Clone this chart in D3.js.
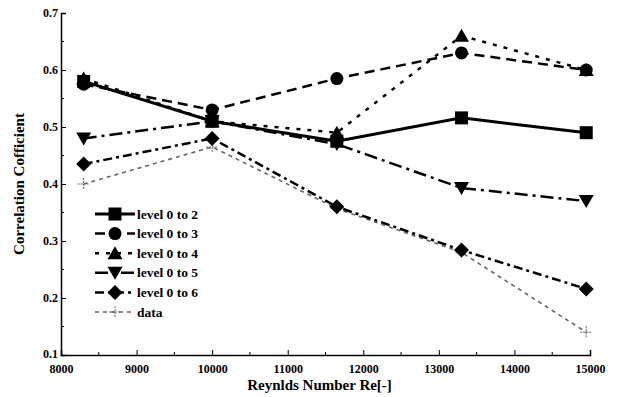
<!DOCTYPE html>
<html>
<head>
<meta charset="utf-8">
<script src="https://cdn.jsdelivr.net/npm/d3@7"></script>
<style>
  html, body { margin: 0; padding: 0; background: #fff; }
  svg { display: block; }
  svg text { font-family: "Liberation Serif", "Times New Roman", "DejaVu Serif", serif !important; font-weight: bold; }
</style>
</head>
<body>
<div id="chart"></div>
<script>
// Reynolds numbers sampled
const reynolds = [8300, 10000, 11650, 13300, 14950];

const level02 = [0.580, 0.510, 0.475, 0.516, 0.490];
const level03 = [0.575, 0.530, 0.585, 0.630, 0.600];
const level04 = [0.585, 0.510, 0.490, 0.660, 0.600];
const level05 = [0.480, 0.510, 0.470, 0.393, 0.370];
const level06 = [0.435, 0.480, 0.360, 0.284, 0.216];
const dataObs = [0.400, 0.465, 0.357, 0.280, 0.140];

const seriesNames = ["level 0 to 2", "level 0 to 3", "level 0 to 4", "level 0 to 5", "level 0 to 6", "data"];
const xTicks = [8000, 9000, 10000, 11000, 12000, 13000, 14000, 15000];
const yTicks = [0.1, 0.2, 0.3, 0.4, 0.5, 0.6, 0.7];

const series = [
  { name: seriesNames[0], values: level02, symbol: "square", dash: null, width: 3, color: "#000" },
  { name: seriesNames[1], values: level03, symbol: "circle", dash: "10,6", width: 2.5, color: "#000" },
  { name: seriesNames[2], values: level04, symbol: "triUp", dash: "4,7", width: 2.5, color: "#000" },
  { name: seriesNames[3], values: level05, symbol: "triDown", dash: "13,5,3,5", width: 2.5, color: "#000" },
  { name: seriesNames[4], values: level06, symbol: "diamond", dash: "9,4,3,4", width: 2.5, color: "#000" },
  { name: seriesNames[5], values: dataObs, symbol: "plus", dash: "4,4", width: 1.6, color: "#666" },
];

const W = 617, H = 397;
const margin = { top: 13, right: 27, bottom: 42, left: 61 };

const svg = d3.select("#chart").append("svg")
  .attr("width", W).attr("height", H);

const x = d3.scaleLinear().domain([8000, 15000]).range([margin.left, W - margin.right]);
const y = d3.scaleLinear().domain([0.1, 0.7]).range([H - margin.bottom, margin.top]);

// axes: ticks pointing inward
const xAxis = svg.append("g")
  .attr("transform", `translate(0,${H - margin.bottom})`)
  .call(d3.axisBottom(x).tickValues(xTicks).tickSize(-5).tickPadding(9).tickFormat(d3.format("d")));
xAxis.append("g").selectAll("line")
  .data(d3.range(8500, 15000, 1000))
  .join("line")
  .attr("x1", (d) => x(d)).attr("x2", (d) => x(d))
  .attr("y1", 0).attr("y2", -3)
  .attr("stroke", "#000");

const yAxis = svg.append("g")
  .attr("transform", `translate(${margin.left},0)`)
  .call(d3.axisLeft(y).tickValues(yTicks).tickSize(-5).tickPadding(3).tickFormat(d3.format(".1f")));
yAxis.append("g").selectAll("line")
  .data(d3.range(0.15, 0.7, 0.1))
  .join("line")
  .attr("y1", (d) => y(d)).attr("y2", (d) => y(d))
  .attr("x1", 0).attr("x2", 3)
  .attr("stroke", "#000");

svg.selectAll(".domain").attr("stroke", "#000").attr("stroke-width", 1.5);
svg.selectAll(".tick line").attr("stroke", "#000");
svg.selectAll(".tick text")
  .style("font-size", "12px")
  .attr("fill", "#000");
// lift the lowest y label a touch so it clears the 8000 label
yAxis.selectAll(".tick text").filter((d) => d === 0.1).attr("dy", "0.2em");

// axis titles
svg.append("text")
  .attr("x", (margin.left + W - margin.right) / 2 - 6)
  .attr("y", H - 7)
  .attr("text-anchor", "middle")
  .style("font-size", "15px")
  .text("Reynlds Number Re[-]");

svg.append("text")
  .attr("transform", "rotate(-90)")
  .attr("x", -(margin.top + H - margin.bottom) / 2)
  .attr("y", 24)
  .attr("text-anchor", "middle")
  .style("font-size", "15px")
  .text("Correlation Cofficient");

function drawSymbol(g, s, cx, cy) {
  const c = s.color;
  if (s.symbol === "square") {
    g.append("rect").attr("x", cx - 6.5).attr("y", cy - 6.5).attr("width", 13).attr("height", 13).attr("fill", c);
  } else if (s.symbol === "circle") {
    g.append("circle").attr("cx", cx).attr("cy", cy).attr("r", 6.5).attr("fill", c);
  } else if (s.symbol === "triUp") {
    g.append("path").attr("d", `M${cx},${cy - 7}L${cx + 7.5},${cy + 6}L${cx - 7.5},${cy + 6}Z`).attr("fill", c);
  } else if (s.symbol === "triDown") {
    g.append("path").attr("d", `M${cx},${cy + 7}L${cx + 7.5},${cy - 6}L${cx - 7.5},${cy - 6}Z`).attr("fill", c);
  } else if (s.symbol === "diamond") {
    g.append("path").attr("d", `M${cx},${cy - 7.5}L${cx + 7.5},${cy}L${cx},${cy + 7.5}L${cx - 7.5},${cy}Z`).attr("fill", c);
  } else if (s.symbol === "plus") {
    g.append("path").attr("d", `M${cx - 6},${cy}H${cx + 6}M${cx},${cy - 6}V${cy + 6}`)
      .attr("stroke", c).attr("stroke-width", 1).attr("stroke-dasharray", "2,1").attr("fill", "none");
  }
}

const line = d3.line().x((d) => x(d[0])).y((d) => y(d[1]));

// draw data first so model lines sit on top
[...series].reverse().forEach((s) => {
  const pts = reynolds.map((r, i) => [r, s.values[i]]);
  svg.append("path")
    .datum(pts)
    .attr("d", line)
    .attr("fill", "none")
    .attr("stroke", s.color)
    .attr("stroke-width", s.width)
    .attr("stroke-dasharray", s.dash);
  const g = svg.append("g");
  pts.forEach((p) => drawSymbol(g, s, x(p[0]), y(p[1])));
});

// legend
const legend = svg.append("g");
series.forEach((s, i) => {
  const ly = 214 + i * 19.6;
  legend.append("line")
    .attr("x1", 95).attr("x2", 135).attr("y1", ly).attr("y2", ly)
    .attr("stroke", s.color).attr("stroke-width", s.width)
    .attr("stroke-dasharray", s.dash);
  drawSymbol(legend, s, 115, ly);
  legend.append("text")
    .attr("x", 137).attr("y", ly + 4.5)
    .style("font-size", "13.5px")
    .text(s.name);
});
</script>
</body>
</html>
